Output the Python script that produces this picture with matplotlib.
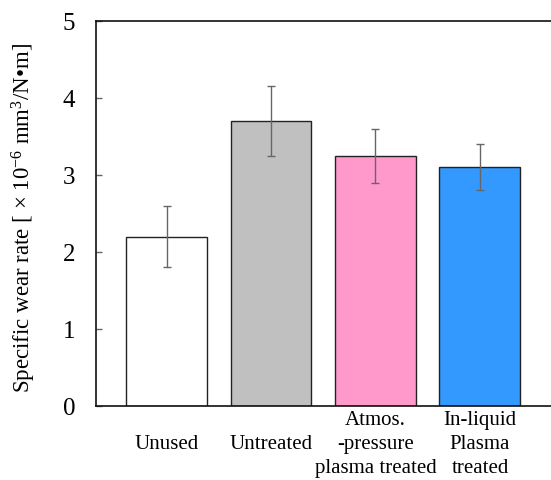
import matplotlib
matplotlib.use("Agg")
import matplotlib.pyplot as plt

plt.rcParams['font.family'] = ['Liberation Serif', 'DejaVu Serif']
plt.rcParams['mathtext.fontset'] = 'custom'
plt.rcParams['mathtext.rm'] = 'Liberation Serif'
plt.rcParams['mathtext.it'] = 'Liberation Serif:italic'

categories = ["Unused", "Untreated", "Atmos.\n-pressure\nplasma treated", "In-liquid\nPlasma\ntreated"]
values = [2.2, 3.7, 3.25, 3.1]
errors = [0.4, 0.45, 0.35, 0.3]
colors = ["#ffffff", "#c0c0c0", "#ff99cc", "#3399ff"]
yticks = [0, 1, 2, 3, 4, 5]

fig = plt.figure(figsize=(5.51, 4.81), dpi=100)
ax = fig.add_axes([96/551, 74/481, 1 - 96/551, 385/481])

x = list(range(len(categories)))
ax.bar(x, values, width=0.775, color=colors, edgecolor="#222222", linewidth=1.0,
       yerr=errors, capsize=3,
       error_kw=dict(ecolor="#666666", elinewidth=1.0, capthick=1.0), zorder=2)

ax.set_xlim(-0.675, 3.68)
ax.set_ylim(0, 5)
ax.set_yticks(yticks)
ax.set_yticklabels([str(t) for t in yticks], fontsize=18)
ax.set_xticks(x)
ax.set_xticklabels(categories, fontsize=15, linespacing=1.35)
for lab in ax.get_xticklabels():
    lab.set_va('center')
ax.tick_params(axis='x', length=0, pad=27)
ax.tick_params(axis='y', direction='in', length=4, width=1, color="#666666", pad=15)
ax.spines['right'].set_visible(False)
for s in ['left', 'bottom', 'top']:
    ax.spines[s].set_linewidth(1.2)
    ax.spines[s].set_color('#111111')

ax.set_ylabel("Specific wear rate [ × 10$^{-6}$ mm$^{3}$/N•m]", fontsize=16.5)
ax.yaxis.set_label_coords(-0.128, 0.49)

fig.savefig("out.png", dpi=100)
